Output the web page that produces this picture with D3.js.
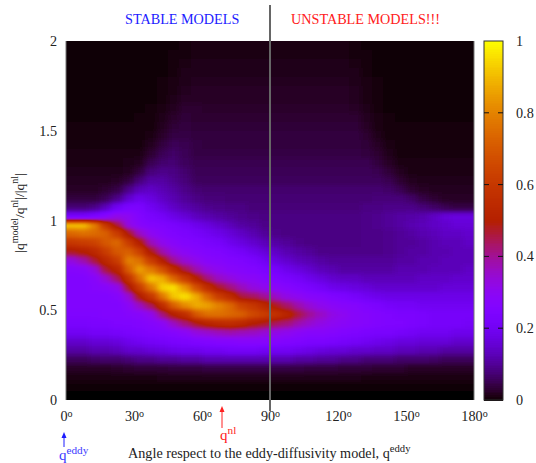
<!DOCTYPE html>
<html>
<head>
<meta charset="utf-8">
<script src="https://cdn.jsdelivr.net/npm/d3@7"></script>
<style>
  body { margin: 0; background: #fff; }
  svg text { font-family: "Liberation Serif", serif; fill: #222; }
</style>
</head>
<body>
<div id="chart"></div>
<script>
// bin centres, angle in degrees and |q| ratio (top row first)
const angles = d3.range(36).map(i => 2.5 + i * 5);
const ratios = d3.range(40).map(i => 1.975 - i * 0.05);

const xTicks = [0, 30, 60, 90, 120, 150, 180];
const yTicks = [0, 0.5, 1, 1.5, 2];
const colorTicks = [0, 0.2, 0.4, 0.6, 0.8, 1];

// density in percent of the maximum
// upper half, one line per row, ratio 1.975 down to 1.025
const upperRows = [
  [.2,.2,.2,.2,.2,.2,.2,.2,.3,.5,.8,1,1,1,1,1,1,1,1,1,1,1,1,1,1,.8,.5,.3,.2,.2,.2,.2,.2,.2,.2,.2],
  [.2,.2,.2,.2,.2,.2,.2,.2,.3,.6,.9,1.2,1.2,1.2,1.2,1.2,1.2,1.2,1.2,1.2,1.2,1.2,1.2,1.2,1.2,.9,.6,.3,.2,.2,.2,.2,.2,.2,.2,.2],
  [.2,.2,.2,.2,.2,.2,.2,.3,.4,.7,1.2,1.4,1.4,1.4,1.4,1.4,1.4,1.4,1.4,1.4,1.4,1.4,1.4,1.4,1.4,1.1,.7,.4,.3,.2,.2,.2,.2,.2,.2,.2],
  [.2,.2,.2,.2,.2,.2,.3,.3,.5,.9,1.5,1.6,1.6,1.6,1.6,1.6,1.6,1.6,1.6,1.6,1.6,1.6,1.6,1.6,1.6,1.4,.9,.5,.3,.3,.2,.2,.2,.2,.2,.2],
  [.3,.3,.3,.3,.3,.3,.3,.4,.6,1.1,1.7,2,2,2,2,2,2,2,2,2,2,2,2,2,2,1.6,1,.6,.4,.3,.3,.3,.3,.3,.3,.3],
  [.3,.3,.3,.3,.3,.3,.4,.4,.7,1.3,2,2.3,2.3,2.3,2.3,2.3,2.3,2.3,2.3,2.3,2.3,2.3,2.3,2.3,2.3,1.8,1.1,.6,.4,.3,.3,.3,.3,.3,.3,.3],
  [.4,.4,.4,.4,.4,.4,.4,.5,.8,1.6,2.5,2.5,2.5,2.5,2.5,2.5,2.5,2.5,2.5,2.5,2.5,2.5,2.5,2.5,2.5,2,1.2,.7,.4,.4,.4,.4,.4,.4,.4,.4],
  [.5,.5,.5,.5,.5,.5,.5,.6,1,2,3,3,2.8,2.8,2.8,2.8,2.8,2.8,2.8,2.8,2.8,2.8,2.8,2.8,2.8,2.5,1.6,.8,.5,.5,.5,.5,.5,.5,.5,.5],
  [.5,.5,.5,.5,.5,.5,.6,.7,1.4,2.8,3.5,3.2,3,3,3,3,3,3,3,3,3,3,3,3,3,3,2,1,.6,.5,.5,.5,.5,.5,.5,.5],
  [.6,.6,.6,.6,.6,.6,.7,.8,2,3.6,4,3.5,3.5,3.5,3.5,3.5,3.5,3.5,3.5,3.5,3.5,3.5,3.5,3.5,3.5,3.5,2.5,1.2,.7,.6,.6,.6,.6,.6,.6,.6],
  [.7,.7,.7,.7,.7,.7,.7,1.1,2.8,4.5,4.5,4,4,4,4,4,4,4,4,4,4,4,4,4,4,4,3,1.7,.8,.7,.7,.7,.7,.7,.7,.7],
  [.8,.8,.8,.8,.8,.8,.9,1.8,4,5.5,5,4.2,4,4,4,4,4,4,4,4,4,4,4,4,4,4,3.5,2.3,1,.7,.7,.7,.7,.7,.7,.7],
  [1,1,1,1,1,1,1.3,3,5.5,6.5,5.5,4.5,4.5,4.5,4.5,4.5,4.5,4.5,4.5,4.5,4.5,4.5,4.5,4.5,4.5,4.5,4,3,1.5,.9,.9,.9,.9,.9,.9,.9],
  [1.2,1.2,1.2,1.2,1.2,1.4,2,5,7,7.5,6,5,5,5,5,5,5,5,5,5,5,5,5,5,5,5,5,4,2.3,1.3,1,1,1,1,1,1],
  [1.5,1.5,1.5,1.5,1.6,2,4,8,9,8.5,7,5.5,5.5,5.5,5.5,5.5,5.5,5.5,5.5,5.5,5.5,5.5,5.5,5.5,5.5,5.5,5.5,5,3.5,1.8,1.2,1.2,1.2,1.2,1.2,1.2],
  [2,2,2,2,2.4,4,8,11,11,9.5,8,6,6,6,6,6,6,6,6,6,6,6,6,6,6,6,6,6,5,3,1.8,1.5,1.5,1.5,1.5,1.5],
  [2.5,2.5,2.5,3,4.5,9,13,14,12.5,11,9,7.5,7,7,7,7,7,7,7,7,7,7,7,7,7,7,7,7,6.5,5,3.2,2.2,1.8,1.8,1.8,1.8],
  [4,4,4,5.5,9,15,19,17,14,12,10,8.5,8,8,7.5,7.5,7.5,7.5,7.5,7.5,7.5,7.5,7.5,7.5,7.5,7.5,7.5,8,8,8,6.5,4.5,3.2,2.5,2.5,2.5],
  [8,8,9,13,20,24,24,20,17,14,12,10.5,9.5,9,8.5,8.5,8,8,8,8,8,8,8,8,8,8,8.5,8.5,9,9,9,8,6.5,5,4.5,4.5],
  [22,22,24,28,32,30,26,23,21,18,16,13.5,12,11,10,9.5,9,8.5,8.5,8.5,8.5,8.5,8.5,8.5,8.5,8.5,9,9.5,10,11,11.5,12,14,16,17,17]
];

// lower half, one line per column, ratio 0.975 down to 0.025
const lowerColumns = [
  [92,74,60,48,33,27,26,26,26,26,25,23,20,15,11,6,2.5,1,.3,0],
  [92,76,62,50,38,28,26,26,26,26,25,23,20,15,11,6,2.5,1,.3,0],
  [80,75,64,54,46,33,28,27,26,26,25,24,21,16,12,6.5,2.5,1,.3,0],
  [60,72,70,62,54,46,34,28,26,26,26,24,21,16,12,7,2.5,1,.3,0],
  [46,62,74,70,62,52,43,31,27,26,26,25,22,17,13,7,2.8,1.1,.3,0],
  [32,48,62,72,80,72,58,47,34,29,27,25,23,19,15,8,3,1.2,.4,0],
  [28,36,50,63,76,86,76,62,49,36,28,26,24,20,15,9,3.5,1.3,.4,0],
  [26,30,37,48,62,78,92,78,60,44,31,27,25,21,16,9,3.5,1.3,.4,0],
  [25,27,31,38,50,68,88,94,78,56,42,29,26,22,17,10,3.5,1.4,.4,0],
  [23,25,28,32,40,55,74,96,92,72,50,36,27,23,18,10,4,1.4,.4,0],
  [21,24,26,29,34,45,62,84,96,82,56,42,29,24,19,11,4,1.5,.4,0],
  [19,22,25,27,31,38,50,68,88,88,70,48,33,25,19,11,4,1.5,.4,0],
  [17,20,23,26,28,33,42,56,74,86,76,52,35,26,20,12,4.5,1.5,.4,0],
  [15,18,22,25,27,30,36,47,62,80,76,55,37,27,20,12,4.5,1.6,.4,0],
  [13,16,19,23,26,28,33,42,55,74,74,56,38,27,21,12,4.5,1.6,.4,0],
  [11,14,17,21,25,27,30,37,46,64,72,54,37,28,21,12,4.5,1.6,.4,0],
  [10,12,15,19,23,26,29,33,44,60,66,50,36,28,21,12,4.5,1.6,.4,0],
  [9,10,13,16,20,24,27,31,40,54,62,48,34,28,20,12,4.5,1.6,.4,0],
  [8.5,9,11,14,17,22,25,29,36,48,58,44,32,27,20,12,4.5,1.6,.4,0],
  [8.5,8.5,10,12,15,19,23,27,32,43,53,42,31,26,20,12,4.5,1.6,.4,0],
  [8.5,8.5,9,11,13,17,21,25,30,38,46,38,29,25,19,11,4.5,1.6,.4,0],
  [8.5,8.5,8.5,10,12,15,19,23,28,34,40,35,28,24,18,11,4,1.6,.4,0],
  [8.5,8.5,8.5,9,11,13,17,21,27,31,36,32,28,24,17,10,4,1.5,.4,0],
  [8.5,8.5,8.5,9,10,12,15,19,25,29,32,30,27,23,16,10,4,1.5,.4,0],
  [8.5,8.5,8.5,9,10,11,14,18,24,28,30,29,26,22,16,9,3.5,1.4,.4,0],
  [8.5,8.5,8.5,9,10,11,14,17,22,27,28,28,25,21,15,9,3.5,1.4,.4,0],
  [9,9,9,9,10,11,13,16,20,25,27,27,24,20,15,8,3.5,1.3,.4,0],
  [9.5,9,9,9,10,11,13,15,19,24,26,26,23,19,14,8,3,1.3,.3,0],
  [10,9.5,9.5,9.5,10,11,13,15,18,22,25,25,23,18,14,8,3,1.2,.3,0],
  [11,10,10,10,11,12,13,15,18,21,24,25,22,17,13,7,3,1.2,.3,0],
  [12,11,10,11,11,12,13,15,18,21,24,24,21,17,13,7,2.5,1.1,.3,0],
  [13,12,11,11,12,12,14,15,18,20,23,23,20,16,12,7,2.5,1.1,.3,0],
  [14,13,12,12,12,13,14,15,18,20,22,22,20,16,12,6.5,2.5,1,.3,0],
  [15,14,13,12,13,13,14,16,18,20,22,22,20,16,11,6,2.5,1,.3,0],
  [16,14,13,13,13,13,15,16,18,20,22,22,19,15,11,6,2.5,1,.3,0],
  [16,15,14,13,13,14,15,16,18,20,22,21,19,15,11,6,2.5,1,.3,0]
];

const density = upperRows.concat(d3.transpose(lowerColumns));

const width = 536, height = 463;
const plot = { left: 66, right: 474, top: 41, bottom: 400 };
const bar = { left: 484, right: 503 };
const binAngle = 5, binRatio = 0.05;
const fontSize = 14.2;

// gnuplot default pm3d palette (rgbformulae 7,5,15)
function palette(t) {
  return d3.rgb(
    255 * Math.sqrt(t),
    255 * Math.pow(t, 3),
    255 * Math.max(0, Math.sin(2 * Math.PI * t))
  );
}

const x = d3.scaleLinear().domain([0, 180]).range([plot.left, plot.right]);
const y = d3.scaleLinear().domain([0, 2]).range([plot.bottom, plot.top]);
const grey = d3.scaleLinear().domain([0, 100]).range([0, 255]);
const color = d3.scaleSequential(palette).domain([0, 100]);
const barY = d3.scaleLinear().domain([0, 1]).range([plot.bottom, plot.top]);

const svg = d3.select("#chart").append("svg")
  .attr("width", width)
  .attr("height", height)
  .style("display", "block");

const defs = svg.append("defs");
defs.append("clipPath").attr("id", "plot-clip").append("rect")
  .attr("x", plot.left)
  .attr("y", plot.top)
  .attr("width", plot.right - plot.left)
  .attr("height", plot.bottom - plot.top);

// cells are drawn as grey levels, softened, then mapped through the palette,
// so the blur runs over the density and not over the colours
const filter = defs.append("filter").attr("id", "soften")
  .attr("filterUnits", "userSpaceOnUse")
  .attr("color-interpolation-filters", "sRGB")
  .attr("x", 0).attr("y", 0).attr("width", width).attr("height", height);
filter.append("feGaussianBlur").attr("stdDeviation", "3.5 2.5");

const paletteTable = d3.range(0, 256).map(i => palette(i / 255));
const transfer = filter.append("feComponentTransfer");
["R", "G", "B"].forEach(ch => {
  const key = { R: "r", G: "g", B: "b" }[ch];
  transfer.append("feFunc" + ch)
    .attr("type", "table")
    .attr("tableValues", paletteTable.map(c => (c[key] / 255).toFixed(4)).join(" "));
});

// edge cells run past the frame so the blur does not fade at the border
const cells = [];
density.forEach((row, j) => row.forEach((v, i) => cells.push({ i, j, v })));

svg.append("g").attr("clip-path", "url(#plot-clip)")
  .append("g").attr("filter", "url(#soften)")
  .selectAll("rect")
  .data(cells)
  .enter().append("rect")
  .attr("x", d => x(angles[d.i] - binAngle / 2) - (d.i === 0 ? 14 : 0))
  .attr("y", d => y(ratios[d.j] + binRatio / 2) - (d.j === 0 ? 14 : 0))
  .attr("width", d => x(binAngle) - x(0) + 0.5 + (d.i === 0 || d.i === angles.length - 1 ? 14 : 0))
  .attr("height", d => y(0) - y(binRatio) + 0.5 + (d.j === 0 || d.j === ratios.length - 1 ? 14 : 0))
  .attr("shape-rendering", "crispEdges")
  .attr("fill", d => d3.rgb(grey(d.v), grey(d.v), grey(d.v)));

// frame sides
[plot.left, plot.right].forEach(px => {
  svg.append("line")
    .attr("x1", px).attr("x2", px)
    .attr("y1", plot.top).attr("y2", plot.bottom)
    .attr("stroke", "#777").attr("stroke-width", 1);
});

// axes
const xAxis = svg.append("g")
  .attr("transform", "translate(0," + plot.bottom + ")")
  .call(d3.axisBottom(x).tickValues(xTicks).tickSize(0).tickPadding(11));
xAxis.select(".domain").remove();
xAxis.selectAll("text")
  .attr("font-size", fontSize)
  .append("tspan")
  .attr("dy", "-0.45em")
  .attr("font-size", 10)
  .text("o");

const yAxis = svg.append("g")
  .attr("transform", "translate(" + plot.left + ",0)")
  .call(d3.axisLeft(y).tickValues(yTicks).tickSize(0).tickPadding(9).tickFormat(d => d));
yAxis.select(".domain").remove();
yAxis.selectAll("text").attr("font-size", fontSize);

// colour bar
svg.append("g").selectAll("rect")
  .data(d3.range(0, 100, 0.5))
  .enter().append("rect")
  .attr("x", bar.left)
  .attr("y", d => barY((d + 0.5) / 100))
  .attr("width", bar.right - bar.left)
  .attr("height", (plot.bottom - plot.top) / 200 + 0.5)
  .attr("shape-rendering", "crispEdges")
  .attr("fill", d => color(d + 0.25));

svg.append("rect")
  .attr("x", bar.left).attr("y", plot.top)
  .attr("width", bar.right - bar.left)
  .attr("height", plot.bottom - plot.top)
  .attr("fill", "none")
  .attr("stroke", "#333").attr("stroke-width", 1);

const barAxis = svg.append("g")
  .attr("transform", "translate(" + bar.right + ",0)")
  .call(d3.axisRight(barY).tickValues(colorTicks).tickSize(0).tickPadding(13).tickFormat(d => d));
barAxis.select(".domain").remove();
barAxis.selectAll("text").attr("font-size", fontSize);

// gnuplot ticks on both sides of the bar
const barTicks = svg.append("g").selectAll("g")
  .data(colorTicks.slice(1, -1))
  .enter().append("g");
barTicks.append("line")
  .attr("x1", bar.left).attr("x2", bar.left + 5)
  .attr("y1", d => barY(d)).attr("y2", d => barY(d))
  .attr("stroke", "#111");
barTicks.append("line")
  .attr("x1", bar.right - 5).attr("x2", bar.right)
  .attr("y1", d => barY(d)).attr("y2", d => barY(d))
  .attr("stroke", "#111");

// 90 degree divider
svg.append("line")
  .attr("x1", x(90)).attr("x2", x(90))
  .attr("y1", 5).attr("y2", 411)
  .attr("stroke", "#666").attr("stroke-width", 2);

// labels
function label(px, py, color, parts, size) {
  const t = svg.append("text")
    .attr("x", px).attr("y", py)
    .attr("font-size", size)
    .style("fill", color);
  parts.forEach(p => {
    const s = t.append("tspan").text(p[0]);
    if (p[1]) s.attr("font-size", size * 0.75).attr("dy", -6);
    if (p[2]) s.attr("dy", 6);
  });
  return t;
}

label(125, 24, "#1c1cff", [["STABLE MODELS"]], fontSize);
label(291, 24, "#ff2020", [["UNSTABLE MODELS!!!"]], fontSize);
label(128, 458, "#222", [["Angle respect to the eddy-diffusivity model, q"], ["eddy", true]], fontSize);
label(59, 460, "#3a3aff", [["q"], ["eddy", true]], 15);
label(220, 440, "#ff2020", [["q"], ["nl", true]], 15);

label(0, 0, "#222", [["|q"], ["model", true], ["/q", false, true], ["nl", true], ["|/|q", false, true], ["nl", true], ["|", false, true]], 13.5)
  .attr("text-anchor", "middle")
  .attr("transform", "translate(24,213) rotate(-90)");

// arrows
function arrow(px, top, bottom, color) {
  svg.append("line")
    .attr("x1", px).attr("x2", px)
    .attr("y1", top + 4).attr("y2", bottom)
    .attr("stroke", color).attr("stroke-width", 1);
  svg.append("path")
    .attr("d", d3.line()([[px - 2.5, top + 6], [px, top], [px + 2.5, top + 6]]) + "Z")
    .attr("fill", color);
}
arrow(64, 432, 447, "#1c1cff");
arrow(222, 406, 428, "#ff2020");
</script>
</body>
</html>
